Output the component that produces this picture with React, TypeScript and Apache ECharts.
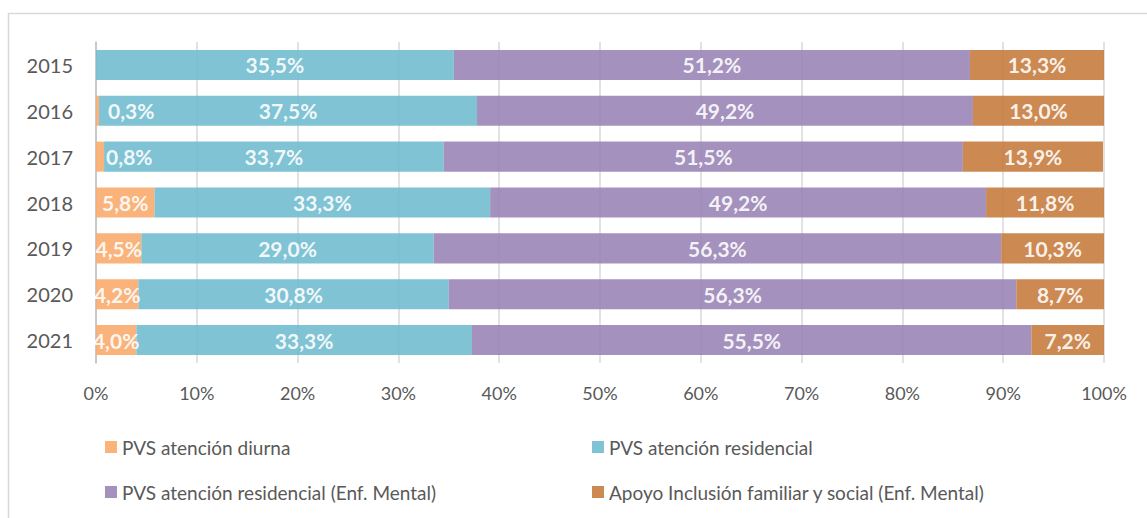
import React, { useEffect, useRef } from "react";
import * as echarts from "echarts";

const years = ["2015", "2016", "2017", "2018", "2019", "2020", "2021"];
const seriesNames = [
  "PVS atención diurna",
  "PVS atención residencial",
  "PVS atención residencial (Enf. Mental)",
  "Apoyo Inclusión familiar y social (Enf. Mental)",
];
const diurna = [0, 0.3, 0.8, 5.8, 4.5, 4.2, 4.0];
const residencial = [35.5, 37.5, 33.7, 33.3, 29.0, 30.8, 33.3];
const residencialEM = [51.2, 49.2, 51.5, 49.2, 56.3, 56.3, 55.5];
const apoyoEM = [13.3, 13.0, 13.9, 11.8, 10.3, 8.7, 7.2];
const xTicks = [0, 10, 20, 30, 40, 50, 60, 70, 80, 90, 100];

// style: colours (applied with opacity so gridlines show through slightly)
const colors = ["#F8AB6D", "#71BDCF", "#9A85B7", "#C67C3E"];
// style: label shift for tiny slices (rendered beside the bar)
const tinyLabelDistance: Record<number, number> = { 1: 9, 2: 2 };

const FONT = "Lato, 'Open Sans', sans-serif";

function fmt(v: number) {
  if (!v) return "";
  return v.toFixed(1).replace(".", ",") + "%";
}

export default function App() {
  const ref = useRef<HTMLDivElement>(null);
  useEffect(() => {
    if (!ref.current) return;
    const chart = echarts.init(ref.current, undefined, { renderer: "svg" });
    const all = [diurna, residencial, residencialEM, apoyoEM];
    const series = all.map((arr, si) => ({
      name: seriesNames[si],
      type: "bar",
      stack: "total",
      barCategoryGap: "34.5%",
      itemStyle: { color: colors[si], opacity: 0.9 },
      label: {
        show: true,
        position: "inside",
        color: "#FFFFFF",
        fontFamily: FONT,
        fontWeight: "bold",
        fontSize: 21,
        formatter: (p: any) => fmt(p.value),
      },
      data: arr.map((v, i) => {
        if (si === 0 && tinyLabelDistance[i] !== undefined) {
          return {
            value: v,
            label: { position: "right", distance: tinyLabelDistance[i] },
          };
        }
        return v;
      }),
    }));
    const legendText = { color: "#595959", fontSize: 19, fontFamily: FONT, lineHeight: 20 };
    chart.setOption({
      animation: false,
      textStyle: { fontFamily: FONT },
      graphic: [
        {
          type: "rect",
          shape: { x: 8.5, y: 13.5, width: 1200, height: 600 },
          style: { fill: "none", stroke: "#D9D9D9", lineWidth: 1.5 },
          silent: true,
          z: -10,
        },
      ],
      grid: { left: 96, right: 43, top: 42, bottom: 155, containLabel: false },
      xAxis: {
        type: "value",
        min: xTicks[0],
        max: xTicks[xTicks.length - 1],
        interval: 10,
        axisLine: { show: false },
        axisTick: { show: false },
        splitLine: { show: true, lineStyle: { color: "#D9D9D9", width: 1.5 } },
        axisLabel: {
          formatter: "{value}%",
          color: "#595959",
          fontSize: 18,
          fontFamily: FONT,
          margin: 21,
        },
      },
      yAxis: {
        type: "category",
        inverse: true,
        data: years,
        axisLine: { show: true, lineStyle: { color: "#BFBFBF", width: 1.5 } },
        axisTick: { show: false },
        axisLabel: {
          color: "#595959",
          fontSize: 20,
          fontFamily: FONT,
          margin: 23,
        },
      },
      legend: [
        {
          orient: "vertical",
          left: 100,
          top: 432,
          itemWidth: 12,
          itemHeight: 12,
          itemGap: 25,
          icon: "rect",
          data: [seriesNames[0], seriesNames[2]],
          textStyle: legendText,
        },
        {
          orient: "vertical",
          left: 587,
          top: 432,
          itemWidth: 12,
          itemHeight: 12,
          itemGap: 25,
          icon: "rect",
          data: [seriesNames[1], seriesNames[3]],
          textStyle: legendText,
        },
      ],
      series,
    });
    return () => chart.dispose();
  }, []);
  return (
    <div
      ref={ref}
      style={{ position: "fixed", left: 0, top: 0, width: 1147, height: 518, background: "#fff" }}
    />
  );
}
